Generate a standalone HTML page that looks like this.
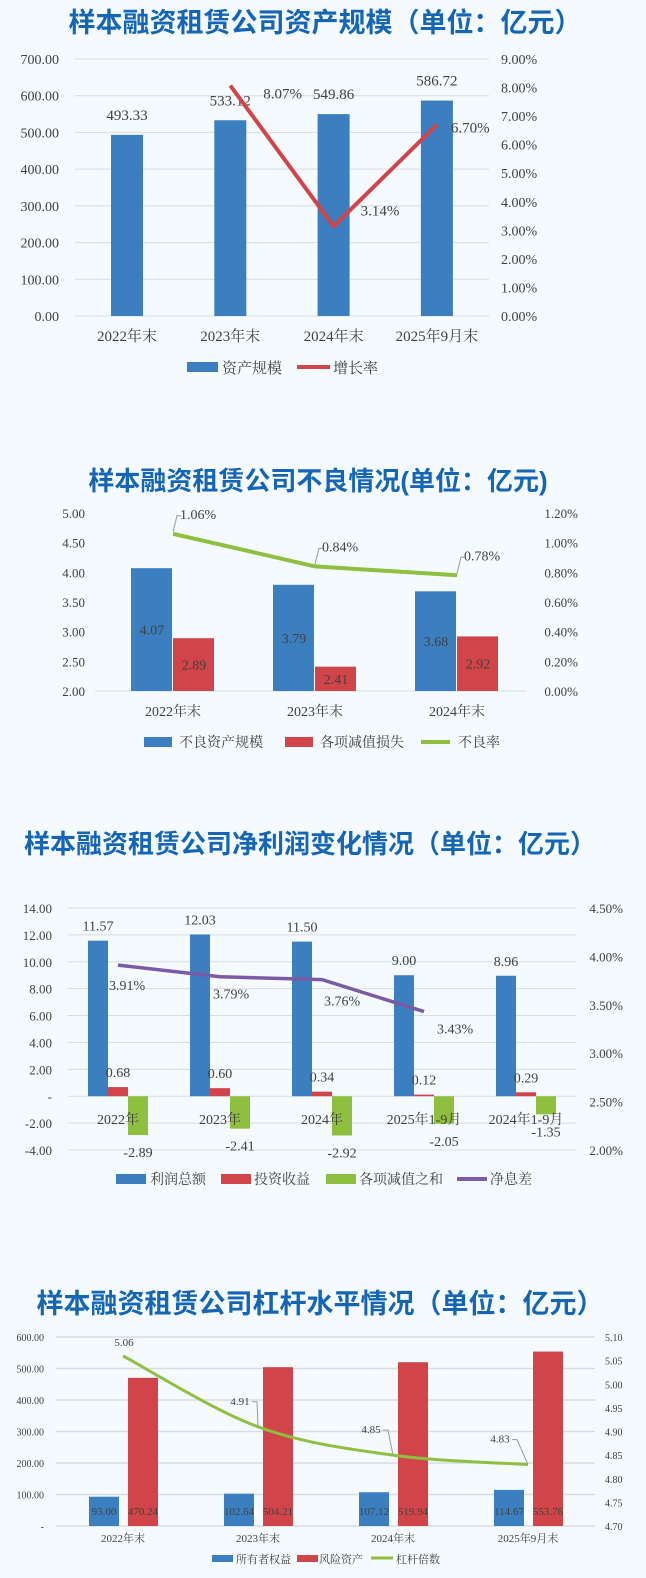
<!DOCTYPE html>
<html><head><meta charset="utf-8">
<style>
html,body{margin:0;padding:0;background:#f4fafd;}
svg{display:block;}
.t{font-family:"Liberation Sans","Noto Sans CJK SC",sans-serif;font-weight:bold;fill:#1565b5;}
.n{font-family:"Liberation Serif","Noto Serif CJK SC",serif;fill:#404040;}
</style></head>
<body>
<svg id="s" width="646" height="1578" viewBox="0 0 646 1578" xmlns="http://www.w3.org/2000/svg">
<rect width="646" height="1578" fill="#f4fafd"/>
<text class="t" x="325" y="32" font-size="27" text-anchor="middle">样本融资租赁公司资产规模（单位：亿元）</text>
<text class="t" x="318" y="490" font-size="26" text-anchor="middle">样本融资租赁公司不良情况(单位：亿元)</text>
<text class="t" x="310" y="853" font-size="26" text-anchor="middle">样本融资租赁公司净利润变化情况（单位：亿元）</text>
<text class="t" x="320" y="1313" font-size="27" text-anchor="middle">样本融资租赁公司杠杆水平情况（单位：亿元）</text>
</svg>
<script>
// ---- Chart 1 data ----
const c1Cats = ["2022年末","2023年末","2024年末","2025年9月末"];
const c1Assets = [493.33,533.12,549.86,586.72];
const c1Growth = [null,8.07,3.14,6.70];
const c1LeftTicks = ["0.00","100.00","200.00","300.00","400.00","500.00","600.00","700.00"];
const c1RightTicks = ["0.00%","1.00%","2.00%","3.00%","4.00%","5.00%","6.00%","7.00%","8.00%","9.00%"];
// ---- Chart 2 data ----
const c2Cats = ["2022年末","2023年末","2024年末"];
const c2Npa = [4.07,3.79,3.68];
const c2Impair = [2.89,2.41,2.92];
const c2Ratio = [1.06,0.84,0.78];
const c2LeftTicks = ["2.00","2.50","3.00","3.50","4.00","4.50","5.00"];
const c2RightTicks = ["0.00%","0.20%","0.40%","0.60%","0.80%","1.00%","1.20%"];
// ---- Chart 3 data ----
const c3Cats = ["2022年","2023年","2024年","2025年1-9月","2024年1-9月"];
const c3Profit = [11.57,12.03,11.50,9.00,8.96];
const c3Invest = [0.68,0.60,0.34,0.12,0.29];
const c3Impair = [-2.89,-2.41,-2.92,-2.05,-1.35];
const c3Nim = [3.91,3.79,3.76,3.43];
const c3LeftTicks = ["-4.00","-2.00","-","2.00","4.00","6.00","8.00","10.00","12.00","14.00"];
const c3RightTicks = ["2.00%","2.50%","3.00%","3.50%","4.00%","4.50%"];
// ---- Chart 4 data ----
const c4Cats = ["2022年末","2023年末","2024年末","2025年9月末"];
const c4Equity = [93.00,102.64,107.12,114.67];
const c4Risk = [470.24,504.21,519.94,553.76];
const c4Lev = [5.06,4.91,4.85,4.83];
const c4LeftTicks = ["-","100.00","200.00","300.00","400.00","500.00","600.00"];
const c4RightTicks = ["4.70","4.75","4.80","4.85","4.90","4.95","5.00","5.05","5.10"];

const S = document.getElementById('s');
const NS = "http://www.w3.org/2000/svg";
function mk(tag, a){const e=document.createElementNS(NS,tag);for(const k in a)e.setAttribute(k,a[k]);S.appendChild(e);return e;}
function txt(x,y,s,size,anchor,cls,fill){const e=mk('text',{x:x,y:y,'font-size':size,'text-anchor':anchor||'middle',class:cls||'n'});if(fill)e.setAttribute('fill',fill);e.textContent=s;return e;}
const BLUE="#3c7fc0", RED="#d0444a", GREEN="#8fbf3f", PURPLE="#7b5aa6", GRID="#d9dde2";

// ================= Chart 1 =================
(function(){
  const L=75,R=489,top=59,bot=316,max=700,rmax=9;
  const y=v=>bot-(v/max)*(bot-top), yr=v=>bot-(v/rmax)*(bot-top);
  const cx=i=>127+i*103.3;
  c1LeftTicks.forEach((t,i)=>{const v=i*100;const g=mk('line',{x1:L,x2:R,y1:y(v),y2:y(v),stroke:GRID,'stroke-width':1});
    
    
    const e=txt(59,y(v)+5,t,14,'end');
    
    });
  c1RightTicks.forEach((t,i)=>{const e=txt(501,yr(i)+5,t,14,'start');
    
    });
  c1Assets.forEach((v,i)=>{const b=mk('rect',{x:cx(i)-16,y:y(v),width:32,height:bot-y(v),fill:BLUE});
    
    
    const l=txt(cx(i),y(v)-15,v.toFixed(2),15);
    
    
    const c=txt(cx(i),341,c1Cats[i],15);
    
    });
  let pts=[];c1Growth.forEach((v,i)=>{if(v!==null)pts.push([cx(i),yr(v)]);});
  const p=mk('polyline',{points:pts.map(q=>q.join(',')).join(' '),fill:'none',stroke:RED,'stroke-width':4,'stroke-linejoin':'round'});
  
  
  const offs=[null,[33,13],[27,-11],[14,8]];
  c1Growth.forEach((v,i)=>{if(v===null)return;const e=txt(cx(i)+offs[i][0],yr(v)+offs[i][1],v.toFixed(2)+'%',15,'start');
    
    });
  const lg1=mk('rect',{x:187,y:362,width:31,height:10,fill:BLUE});
  
  
  const lt1=txt(222,373,'资产规模',15,'start');
  
  
  const lg2=mk('line',{x1:297,x2:330,y1:367,y2:367,stroke:RED,'stroke-width':4});
  
  
  const lt2=txt(333,373,'增长率',15,'start');
  
  
})();

// ================= Chart 2 =================
(function(){
  const L=95,R=526,top=513,bot=691,min=2,max=5,rmax=1.2;
  const y=v=>bot-((v-min)/(max-min))*(bot-top), yr=v=>bot-(v/rmax)*(bot-top);
  const cx=i=>173+i*142;
  c2LeftTicks.forEach((t,i)=>{const v=2+i*0.5;
    const e=txt(85,y(v)+5,t,13,'end');
    
    });
  c2RightTicks.forEach((t,i)=>{const e=txt(578,yr(i*0.2)+5,t,13,'end');
    
    });
  const ax=mk('line',{x1:L,x2:R,y1:bot,y2:bot,stroke:GRID,'stroke-width':1});
  
  
  c2Cats.forEach((c,i)=>{
    const b=mk('rect',{x:cx(i)-42,y:y(c2Npa[i]),width:41,height:bot-y(c2Npa[i]),fill:BLUE});
    
    
    const r=mk('rect',{x:cx(i),y:y(c2Impair[i]),width:41,height:bot-y(c2Impair[i]),fill:RED});
    
    
    const l1=txt(cx(i)-21,(y(c2Npa[i])+bot)/2+5,c2Npa[i].toFixed(2),14);
    
    
    const l2=txt(cx(i)+21,(y(c2Impair[i])+bot)/2+5,c2Impair[i].toFixed(2),14);
    
    
    const cl=txt(cx(i),716,c,14);
    
    
  });
  const p=mk('polyline',{points:c2Ratio.map((v,i)=>cx(i)+','+yr(v)).join(' '),fill:'none',stroke:GREEN,'stroke-width':4});
  
  
  c2Ratio.forEach((v,i)=>{const e=txt(cx(i)+7,yr(v)-15,v.toFixed(2)+'%',14,'start');
    
    
    const ld=mk('polyline',{points:(cx(i))+','+(yr(v)-2)+' '+(cx(i)+4)+','+(yr(v)-18)+' '+(cx(i)+8)+','+(yr(v)-18),fill:'none',stroke:'#999','stroke-width':1});
    
    });
  const a=mk('rect',{x:144,y:737,width:28,height:10,fill:BLUE});
  
  
  const at=txt(179,747,'不良资产规模',14,'start');
  
  
  const b=mk('rect',{x:285,y:737,width:28,height:10,fill:RED});
  
  
  const bt=txt(320,747,'各项减值损失',14,'start');
  
  
  const c=mk('line',{x1:421,x2:450,y1:742,y2:742,stroke:GREEN,'stroke-width':4});
  
  
  const ct=txt(458,747,'不良率',14,'start');
  
  
})();

// ================= Chart 3 =================
(function(){
  const L=68,R=576,top=908,bot=1150,min=-4,max=14,rmin=2,rmax=4.5;
  const y=v=>bot-((v-min)/(max-min))*(bot-top), yr=v=>bot-((v-rmin)/(rmax-rmin))*(bot-top);
  const cx=i=>118+i*102;
  c3LeftTicks.forEach((t,i)=>{const v=-4+i*2;
    const g=mk('line',{x1:L,x2:R,y1:y(v),y2:y(v),stroke:GRID,'stroke-width':1});
    
    
    const e=txt(52,y(v)+5,t,13,'end');
    
    });
  c3RightTicks.forEach((t,i)=>{const e=txt(623,yr(2+i*0.5)+5,t,13,'end');
    
    });
  c3Cats.forEach((c,i)=>{const x=cx(i);
    const b=mk('rect',{x:x-30,y:y(c3Profit[i]),width:20,height:y(0)-y(c3Profit[i]),fill:BLUE});
    
    
    const r=mk('rect',{x:x-10,y:y(c3Invest[i]),width:20,height:y(0)-y(c3Invest[i]),fill:RED});
    
    
    const g=mk('rect',{x:x+10,y:y(0),width:20,height:y(c3Impair[i])-y(0),fill:GREEN});
    
    
    const l1=txt(x-20,y(c3Profit[i])-10,c3Profit[i].toFixed(2),14);
    
    
    const l2=txt(x,y(c3Invest[i])-10,c3Invest[i].toFixed(2),14);
    
    
    const l3=txt(x+20,y(c3Impair[i])+22,c3Impair[i].toFixed(2),14);
    
    
    const cl=txt(x,1124,c,14);
    
    });
  const p=mk('polyline',{points:c3Nim.map((v,i)=>cx(i)+','+yr(v)).join(' '),fill:'none',stroke:PURPLE,'stroke-width':3.5});
  
  
  const lo=[[-9,25],[-7,22],[2,26],[13,22]];
  c3Nim.forEach((v,i)=>{const e=txt(cx(i)+lo[i][0],yr(v)+lo[i][1],v.toFixed(2)+'%',14,'start');
    
    });
  const items=[[116,BLUE,'利润总额',150,'rect'],[221,RED,'投资收益',254,'rect'],[326,GREEN,'各项减值之和',359,'rect'],[457,PURPLE,'净息差',490,'line']];
  items.forEach(it=>{let s;
    if(it[4]==='rect'){s=mk('rect',{x:it[0],y:1174,width:30,height:10,fill:it[1]});}
    else{s=mk('line',{x1:it[0],x2:it[0]+30,y1:1179,y2:1179,stroke:it[1],'stroke-width':4});}
    
    
    const t=txt(it[3],1184,it[2],14,'start');
    
    });
})();

// ================= Chart 4 =================
(function(){
  const L=56,R=595,top=1337,bot=1526,max=600,rmin=4.7,rmax=5.1;
  const y=v=>bot-(v/max)*(bot-top), yr=v=>bot-((v-rmin)/(rmax-rmin))*(bot-top);
  const cx=i=>123+i*135;
  c4LeftTicks.forEach((t,i)=>{const v=i*100;
    const g=mk('line',{x1:L,x2:R,y1:y(v),y2:y(v),stroke:GRID,'stroke-width':1.5});
    
    
    const e=txt(44,y(v)+4,t,10,'end');
    
    });
  c4RightTicks.forEach((t,i)=>{const e=txt(605,yr(4.7+i*0.05)+4,t,10,'start');
    
    });
  c4Cats.forEach((c,i)=>{const x=cx(i);
    const b=mk('rect',{x:x-34,y:y(c4Equity[i]),width:30,height:bot-y(c4Equity[i]),fill:BLUE});
    
    
    const r=mk('rect',{x:x+5,y:y(c4Risk[i]),width:30,height:bot-y(c4Risk[i]),fill:RED});
    
    
    const l1=txt(x-19,1515,c4Equity[i].toFixed(2),11);
    
    
    const l2=txt(x+20,1515,c4Risk[i].toFixed(2),11);
    
    
    const cl=txt(x,1542,c,11);
    
    });
  const P=c4Lev.map((v,i)=>[cx(i),yr(v)]);
  let d='M'+P[0][0]+','+P[0][1];
  for(let i=0;i<P.length-1;i++){const p0=P[Math.max(0,i-1)],p1=P[i],p2=P[i+1],p3=P[Math.min(P.length-1,i+2)];
    const c1=[p1[0]+(p2[0]-p0[0])/6,p1[1]+(p2[1]-p0[1])/6],c2=[p2[0]-(p3[0]-p1[0])/6,p2[1]-(p3[1]-p1[1])/6];
    d+=' C'+c1.join(',')+' '+c2.join(',')+' '+p2.join(',');}
  const ln=mk('path',{d:d,fill:'none',stroke:GREEN,'stroke-width':3});
  
  
  const lo=[[1,-10],[-18,-22],[-22,-22],[-28,-22]];
  c4Lev.forEach((v,i)=>{const e=txt(cx(i)+lo[i][0],yr(v)+lo[i][1],v.toFixed(2),11);
    
    
    if(i>0){const l=mk('polyline',{points:(cx(i)+lo[i][0]+12)+','+(yr(v)+lo[i][1]-3)+' '+(cx(i)+lo[i][0]+17)+','+(yr(v)+lo[i][1]-3)+' '+cx(i)+','+yr(v),fill:'none',stroke:'#999','stroke-width':1});
      
      }});
  const items=[[212,BLUE,'所有者权益',236,'rect'],[297,RED,'风险资产',319,'rect'],[371,GREEN,'杠杆倍数',396,'line']];
  items.forEach(it=>{let s;
    if(it[4]==='rect'){s=mk('rect',{x:it[0],y:1555,width:21,height:7,fill:it[1]});}
    else{s=mk('line',{x1:it[0],x2:it[0]+22,y1:1558,y2:1558,stroke:it[1],'stroke-width':3});}
    
    
    const t=txt(it[3],1563,it[2],11,'start');
    
    });
})();
</script>
</body></html>
